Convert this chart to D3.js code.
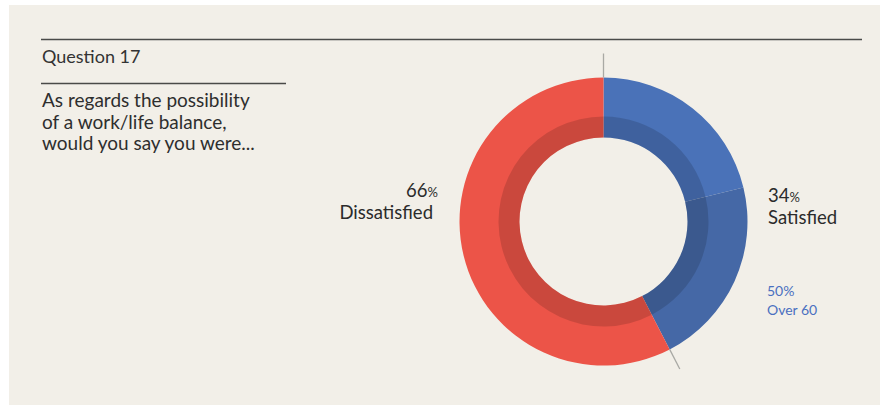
<!DOCTYPE html>
<html>
<head>
<meta charset="utf-8">
<script src="https://cdn.jsdelivr.net/npm/d3@7/dist/d3.min.js"></script>
<style>
  html, body { margin: 0; padding: 0; background: #ffffff; }
  svg { display: block; }
  text { font-family: Lato, "Open Sans", sans-serif; }
</style>
</head>
<body>
<svg id="chart" width="880" height="405"></svg>
<script>
// ---- data ----
const title = "Question 17";
const questionLines = ["As regards the possibility", "of a work/life balance,", "would you say you were..."];
const categories = ["Satisfied", "Dissatisfied"];
const labelPercents = [34, 66];            // printed percentages
const drawnShares = [42.4, 57.6];          // share of the ring each slice occupies in the picture
const subLabel = "Over 60";
const subPercent = 50;                     // part of "Satisfied" that is over 60

// ---- layout ----
const W = 880, H = 405;
const svg = d3.select("#chart");
svg.append("rect").attr("x", 9).attr("y", 5).attr("width", W - 9).attr("height", H - 5).attr("fill", "#f2efe8");

// header rules & text
svg.append("line").attr("x1", 41).attr("x2", 862).attr("y1", 39.5).attr("y2", 39.5)
  .attr("stroke", "#4a4a48").attr("stroke-width", 1.6);
svg.append("line").attr("x1", 41).attr("x2", 286).attr("y1", 83.5).attr("y2", 83.5)
  .attr("stroke", "#4a4a48").attr("stroke-width", 1.6);
svg.append("text").attr("x", 42).attr("y", 63).attr("font-size", 18).attr("fill", "#333")
  .text(title);
svg.append("text").attr("x", 42).attr("y", 107).attr("font-size", 19).attr("fill", "#2e2e2e")
  .selectAll("tspan").data(questionLines).join("tspan")
  .attr("x", 42).attr("dy", (d, i) => i === 0 ? 0 : 21.5).text(d => d);

// ---- donut ----
const cx = 603.5, cy = 221.5;
const rOuter = 144, rInner = 84, rBand = 105;
const g = svg.append("g").attr("transform", `translate(${cx},${cy})`);

const pie = d3.pie().sort(null).value(d => d.share);
const slices = pie(categories.map((c, i) => ({ cat: c, share: drawnShares[i], pct: labelPercents[i] })));

const sat = slices[0];
const split = sat.startAngle + (sat.endAngle - sat.startAngle) * subPercent / 100;
const segments = [
  { startAngle: sat.startAngle, endAngle: split, fill: "#4a72b8" },
  { startAngle: split, endAngle: sat.endAngle, fill: "#4568a6" },
  { startAngle: slices[1].startAngle, endAngle: slices[1].endAngle, fill: "#ec5448" }
];

const arc = d3.arc().innerRadius(rInner).outerRadius(rOuter);
g.selectAll("path.seg").data(segments).join("path").attr("class", "seg")
  .attr("d", arc).attr("fill", d => d.fill);

// darker inner band
const band = d3.arc().innerRadius(rInner).outerRadius(rBand);
g.selectAll("path.band").data(segments).join("path").attr("class", "band")
  .attr("d", band).attr("fill", "#000").attr("fill-opacity", 0.14);

// radial ticks at slice boundaries
const tickData = [{ a: sat.startAngle, len: 24 }, { a: sat.endAngle, len: 22 }];
g.selectAll("line.tick").data(tickData).join("line").attr("class", "tick")
  .attr("x1", d => Math.sin(d.a) * rOuter).attr("y1", d => -Math.cos(d.a) * rOuter)
  .attr("x2", d => Math.sin(d.a) * (rOuter + d.len)).attr("y2", d => -Math.cos(d.a) * (rOuter + d.len))
  .attr("stroke", "#a9a9a4").attr("stroke-width", 1.3);

// ---- labels ----
function bigLabel(x, y, anchor, pct, name, dxName) {
  const t = svg.append("text").attr("x", x).attr("y", y).attr("text-anchor", anchor)
    .attr("fill", "#2b2b2b").attr("font-size", 18.5);
  t.append("tspan").text(pct);
  t.append("tspan").attr("font-size", 13).text("%");
  svg.append("text").attr("x", x + dxName).attr("y", y + 22).attr("text-anchor", anchor)
    .attr("fill", "#2b2b2b").attr("font-size", 18.5).text(name);
}
bigLabel(438, 197, "end", slices[1].data.pct, slices[1].data.cat, -5);
bigLabel(768, 202, "start", slices[0].data.pct, slices[0].data.cat, 0);

svg.append("text").attr("x", 767).attr("y", 296).attr("font-size", 14).attr("fill", "#4a6fc0")
  .text(subPercent + "%");
svg.append("text").attr("x", 767).attr("y", 315).attr("font-size", 14).attr("fill", "#4a6fc0")
  .text(subLabel);
</script>
</body>
</html>
